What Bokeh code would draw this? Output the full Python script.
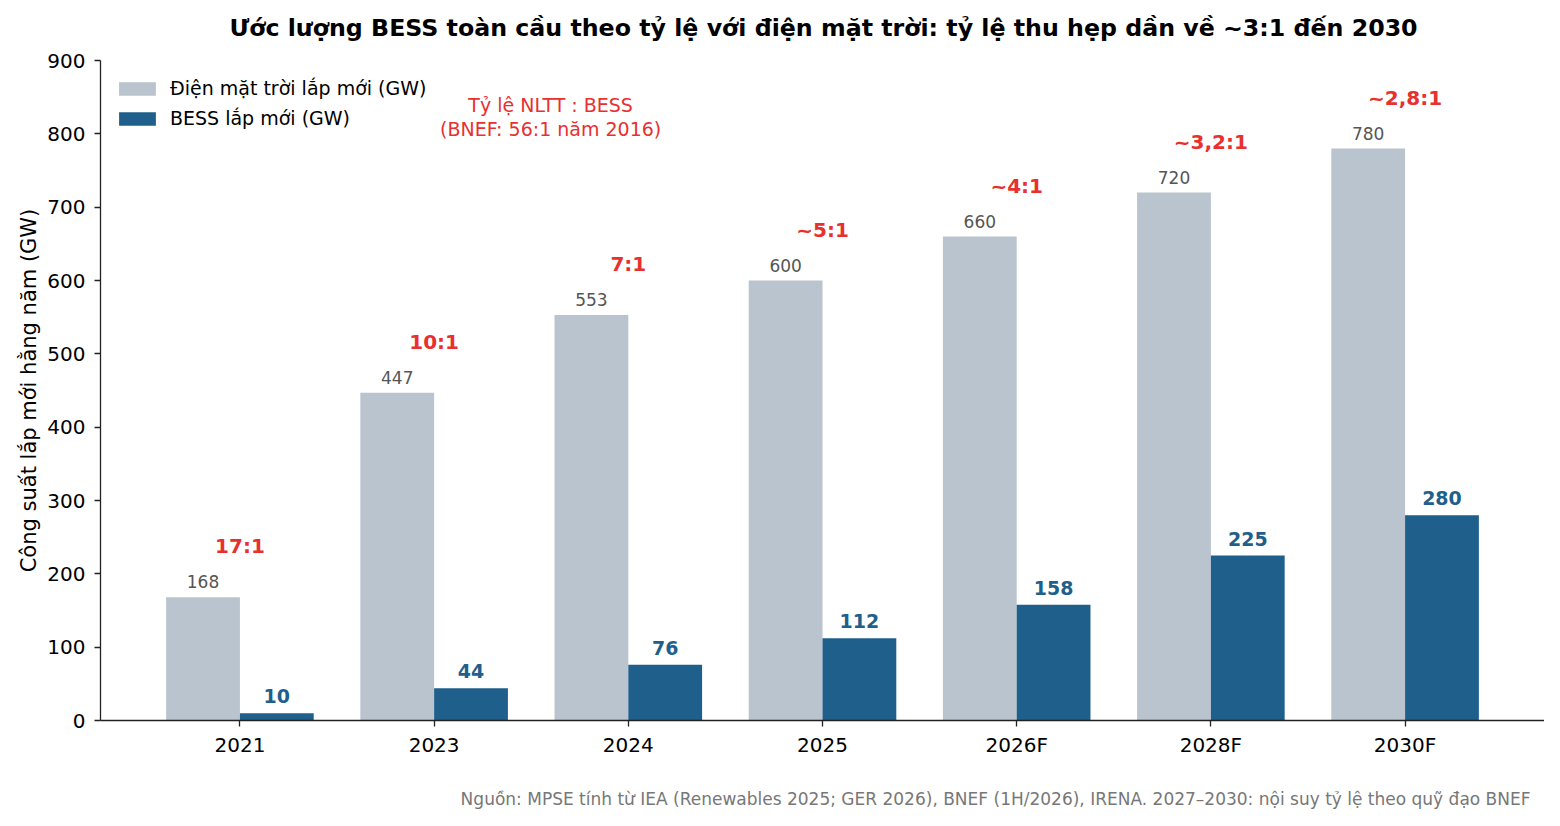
from bokeh.plotting import figure
from bokeh.layouts import column
from bokeh.models import ColumnDataSource, Range1d, FixedTicker, Legend, LegendItem
from bokeh.transform import dodge
from bokeh.core.properties import value
from bokeh.embed import file_html
from bokeh.resources import INLINE

years = ["2021", "2023", "2024", "2025", "2026F", "2028F", "2030F"]
solar = [168, 447, 553, 600, 660, 720, 780]
bess = [10, 44, 76, 112, 158, 225, 280]
ratios = ["17:1", "10:1", "7:1", "~5:1", "~4:1", "~3,2:1", "~2,8:1"]
y_ticks = [0, 100, 200, 300, 400, 500, 600, 700, 800, 900]

TITLE = "Ước lượng BESS toàn cầu theo tỷ lệ với điện mặt trời: tỷ lệ thu hẹp dần về ~3:1 đến 2030"
NOTE = "Tỷ lệ NLTT : BESS\n(BNEF: 56:1 năm 2016)"
SOURCE = "Nguồn: MPSE tính từ IEA (Renewables 2025; GER 2026), BNEF (1H/2026), IRENA. 2027–2030: nội suy tỷ lệ theo quỹ đạo BNEF"

FONT = "DejaVu Sans"
SOLAR_C = "#bac4ce"
BESS_C = "#1f5f8b"
RED = "#e8302f"
W = 1544
LEFT = 100


def text_strip(height):
    # the column aligns this strip's frame with the main chart's frame (x 100..1544)
    f = figure(width=W, height=height, output_backend="svg", toolbar_location=None,
               x_range=Range1d(LEFT, W), y_range=Range1d(0, height),
               x_axis_type=None, y_axis_type=None, min_border=0)
    f.outline_line_color = None
    f.xgrid.visible = False
    f.ygrid.visible = False
    return f


# title strip
pt = text_strip(50)
pt.text(x=[823], y=[23], text=[TITLE], text_font=value(FONT), text_font_size="23.7px",
        text_font_style="bold", text_color="#000000", text_align="center", text_baseline="middle")

# main chart
idx = list(range(len(years)))
src = ColumnDataSource(dict(idx=idx, solar=solar, bess=bess, ratio=ratios,
                            solar_lbl=[str(v) for v in solar],
                            bess_lbl=[str(v) for v in bess]))

p = figure(width=W, height=740, output_backend="svg", toolbar_location=None,
           x_range=Range1d(-0.718, 6.718), y_range=Range1d(0, 900),
           min_border_left=LEFT, min_border_right=0, min_border_top=10, min_border_bottom=70)
p.outline_line_color = None
p.xgrid.visible = False
p.ygrid.visible = False

r1 = p.vbar(x=dodge("idx", -0.19, range=p.x_range), top="solar", width=0.38, source=src,
            fill_color=SOLAR_C, line_color=None)
r2 = p.vbar(x=dodge("idx", 0.19, range=p.x_range), top="bess", width=0.38, source=src,
            fill_color=BESS_C, line_color=None)

p.text(x=dodge("idx", -0.19, range=p.x_range), y="solar", text="solar_lbl", source=src,
       text_font=value(FONT), text_font_size="17px", text_color="#555555",
       text_align="center", text_baseline="bottom", y_offset=-9)
p.text(x=dodge("idx", 0.19, range=p.x_range), y="bess", text="bess_lbl", source=src,
       text_font=value(FONT), text_font_size="19px", text_font_style="bold", text_color=BESS_C,
       text_align="center", text_baseline="bottom", y_offset=-10)
p.text(x="idx", y="solar", text="ratio", source=src,
       text_font=value(FONT), text_font_size="20px", text_font_style="bold", text_color=RED,
       text_align="center", text_baseline="middle", y_offset=-51)

p.text(x=[1.6], y=[823], text=[NOTE],
       text_font=value(FONT), text_font_size="19px", text_color=RED,
       text_align="center", text_baseline="middle", text_line_height=1.1)

for ax in (p.xaxis[0], p.yaxis[0]):
    ax.axis_line_color = "#222222"
    ax.axis_line_width = 1.3
    ax.major_tick_line_color = "#222222"
    ax.major_tick_line_width = 1.3
    ax.major_tick_out = 6
    ax.major_tick_in = 0
    ax.minor_tick_line_color = None
    ax.major_label_text_font = FONT
    ax.major_label_text_font_size = "20px"
    ax.major_label_text_color = "#000000"

p.xaxis.ticker = FixedTicker(ticks=idx)
p.xaxis.major_label_overrides = {i: y for i, y in enumerate(years)}
p.xaxis.major_label_standoff = 6
p.yaxis.ticker = FixedTicker(ticks=y_ticks)
p.yaxis.major_label_standoff = 9
p.yaxis.axis_label = "Công suất lắp mới hằng năm (GW)"
p.yaxis.axis_label_text_font = FONT
p.yaxis.axis_label_text_font_size = "21px"
p.yaxis.axis_label_text_font_style = "normal"
p.yaxis.axis_label_text_color = "#000000"
p.yaxis.axis_label_standoff = 3

legend = Legend(items=[LegendItem(label="Điện mặt trời lắp mới (GW)", renderers=[r1]),
                       LegendItem(label="BESS lắp mới (GW)", renderers=[r2])],
                location=(14, 591), margin=0, padding=0, spacing=8,
                glyph_width=46, glyph_height=17, label_standoff=10,
                label_text_font=FONT, label_text_font_size="19px", label_text_color="#000000",
                border_line_color=None, background_fill_alpha=0)
p.add_layout(legend, "center")

# source strip
ps = text_strip(20)
ps.text(x=[1530], y=[12], text=[SOURCE], text_font=value(FONT), text_font_size="17px",
        text_color="#777777", text_align="right", text_baseline="middle")

layout = column(pt, p, ps, spacing=0)
open("out.html", "w").write(file_html(layout, INLINE))
